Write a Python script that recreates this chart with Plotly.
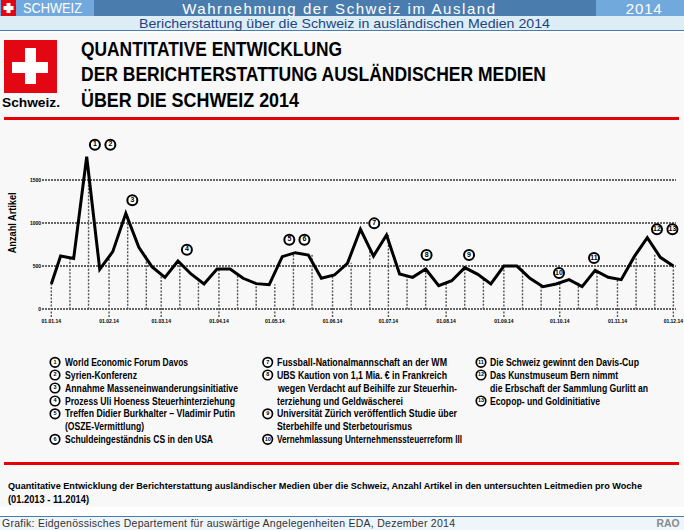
import json
import plotly.graph_objects as go
from datetime import datetime, timedelta

# ---- data ----
week_dates = ["2014-01-01","2014-01-06","2014-01-13","2014-01-20","2014-01-27","2014-02-03","2014-02-10","2014-02-17","2014-02-24",
 "2014-03-03","2014-03-10","2014-03-17","2014-03-24","2014-03-31","2014-04-07","2014-04-14","2014-04-21","2014-04-28",
 "2014-05-05","2014-05-12","2014-05-19","2014-05-26","2014-06-02","2014-06-09","2014-06-16","2014-06-23","2014-06-30",
 "2014-07-07","2014-07-14","2014-07-21","2014-07-28","2014-08-04","2014-08-11","2014-08-18","2014-08-25",
 "2014-09-01","2014-09-08","2014-09-15","2014-09-22","2014-09-29","2014-10-06","2014-10-13","2014-10-20","2014-10-27",
 "2014-11-03","2014-11-10","2014-11-17","2014-11-24","2014-12-01"]
articles = [294,618,590,1770,464,669,1113,719,495,371,560,410,294,468,468,360,298,286,611,657,630,360,398,533,928,618,862,
 410,371,468,274,332,483,406,294,502,502,360,263,294,344,263,452,371,344,611,831,603,502]

drop_dates = ["2014-01-01","2014-01-11","2014-01-21","2014-02-01","2014-02-11","2014-02-21","2014-03-01","2014-03-11","2014-03-21",
 "2014-04-01","2014-04-11","2014-04-21","2014-05-01","2014-05-11","2014-05-21","2014-06-01","2014-06-11","2014-06-21",
 "2014-07-01","2014-07-11","2014-07-21","2014-08-01","2014-08-11","2014-08-21","2014-09-01","2014-09-11","2014-09-21",
 "2014-10-01","2014-10-11","2014-10-21","2014-11-01","2014-11-11","2014-11-21","2014-12-01"]
drop_tops = [294,590,1650,620,1100,620,395,530,330,468,410,298,290,640,640,395,540,680,862,385,468,320,483,350,500,480,270,
 298,320,420,350,600,650,502]

month_ticks = ["2014-01-01","2014-02-01","2014-03-01","2014-04-01","2014-05-01","2014-06-01","2014-07-01","2014-08-01","2014-09-01",
 "2014-10-01","2014-11-01","2014-12-01"]
month_labels = ["01.01.14","01.02.14","01.03.14","01.04.14","01.05.14","01.06.14","01.07.14","01.08.14","01.09.14",
 "01.10.14","01.11.14","01.12.14"]
y_ticks = [0,500,1000,1500]

event_numbers = ["1","2","3","4","5","6","7","8","9","10","11","12","13"]
event_days = [23.4,31.7,43.5,72.8,127.8,135.9,173.4,201.5,224.3,272.6,291.4,325.2,333.5]
event_heights = [1910,1910,1264,692,808,808,997,630,630,421,595,928,928]

# (badge, text, rendered width in px)
legend_col1 = [("1","World Economic Forum Davos",123),("2","Syrien-Konferenz",72),("3","Annahme Masseneinwanderungsinitiative",173),
 ("4","Prozess Uli Hoeness Steuerhinterziehung",170),("5","Treffen Didier Burkhalter – Vladimir Putin",170),("","(OSZE-Vermittlung)",79),
 ("6","Schuldeingeständnis CS in den USA",148)]
legend_col2 = [("7","Fussball-Nationalmannschaft an der WM",170),("8","UBS Kaution von 1,1 Mia. € in Frankreich",170),
 ("","wegen Verdacht auf Beihilfe zur Steuerhin-",179),("","terziehung und Geldwäscherei",126),
 ("9","Universität Zürich veröffentlich Studie über",180),("","Sterbehilfe und Sterbetourismus",135),
 ("10","Vernehmlassung Unternehmenssteuerreform III",185)]
legend_col3 = [("11","Die Schweiz gewinnt den Davis-Cup",149),("12","Das Kunstmuseum Bern nimmt",128),
 ("","die Erbschaft der Sammlung Gurlitt an",158),("13","Ecopop- und Goldinitiative",110)]

W, H = 684, 530
SANS = "Liberation Sans"

def rect(x0, y0, x1, y1, color):
    return dict(type="rect", xref="paper", yref="paper", layer="below", line_width=0, fillcolor=color,
                x0=x0/W, x1=x1/W, y0=1-y0/H, y1=1-y1/H)

shapes = [
    rect(0,33,684,506.7,"#f8f8f8"),
    rect(0,0,684,16,"#4a7dae"), rect(0,0,94,16,"#72a9dd"), rect(596,0,684,16,"#72a9dd"),
    rect(0,16,684,30,"#dcedf5"), rect(0,30,684,31,"#4a7dae"),
    rect(1,0,16,16,"#e30613"), rect(6.5,3,10.5,13,"#ffffff"), rect(3.5,6,13.5,10,"#ffffff"),
    rect(4,40,57,93,"#e30613"), rect(25,48,36,84,"#ffffff"), rect(12,62,48,73,"#ffffff"),
    rect(4,117,679,120,"#e60000"), rect(4,462,679,465,"#e60000"),
    rect(0,516,684,517,"#4a7dae"), rect(0,517,684,530,"#eef6fc"),
]

targets = {}
spaced = []
def txt(x, y, s, size, width=None, color="#000", bold=True, anchor="left", angle=0, space=False):
    if width:
        targets[s] = width
    if space:
        spaced.append(s)
    return dict(xref="x2", yref="y2", x=x, y=y, text=s, showarrow=False,
                xanchor=anchor, yanchor="middle", textangle=angle,
                font=dict(family=SANS, size=size, color=color, weight="bold" if bold else "normal"))

annotations = [
    txt(23,8,"SCHWEIZ",14,59,"#fff",False),
    txt(338.5,8,"Wahrnehmung der Schweiz im Ausland",15,313,"#fff",False,"center",space=True),
    txt(643,8,"2014",15,36,"#fff",False,"center",space=True),
    txt(344.5,23,"Bericherstattung über die Schweiz in ausländischen Medien 2014",13.5,411,"#1f4480",False,"center"),
    txt(2,102.5,"Schweiz.",12,58),
    txt(81,48,"QUANTITATIVE ENTWICKLUNG",21,261),
    txt(81,73.5,"DER BERICHTERSTATTUNG AUSLÄNDISCHER MEDIEN",21,465),
    txt(81,99,"ÜBER DIE SCHWEIZ 2014",21,218),
    txt(12,223,"Anzahl Artikel",10,61,angle=-90,anchor="center"),
    txt(7.5,485.7,"Quantitative Entwicklung der Berichterstattung ausländischer Medien über die Schweiz, Anzahl Artikel in den untersuchten Leitmedien pro Woche",9.6,634),
    txt(7.5,499,"(01.2013 - 11.2014)",10,81),
    txt(2,523,"Grafik: Eidgenössisches Departement für auswärtige Angelegenheiten EDA, Dezember 2014",10.5,453,"#333",False,space=True),
    txt(680,523,"RAO",11,23,"#8a8a8a",True,"right"),
]

rows = [362.3,375,388,401,413.8,426.7,439.3]
badge_x, badge_y, badge_t = [], [], []
for col, bx, tx in ((legend_col1,55,65),(legend_col2,267.7,277),(legend_col3,481,490)):
    for r, (num, label, width) in zip(rows, col):
        annotations.append(txt(tx, r, label, 10, width))
        if num:
            badge_x.append(bx); badge_y.append(r); badge_t.append(num)

base = datetime(2014,1,1)
event_dates = [(base+timedelta(days=d)).isoformat() for d in event_days]

drop_x, drop_y = [], []
for d, v in zip(drop_dates, drop_tops):
    drop_x += [d, d, None]
    drop_y += [-89 if d in month_ticks else 0, v, None]

fig = go.Figure()
fig.add_trace(go.Scatter(x=drop_x, y=drop_y, mode="lines", hoverinfo="skip",
    line=dict(color="#555", width=1.4, dash="2px,1.5px"), connectgaps=False))
fig.add_trace(go.Scatter(x=week_dates, y=articles, mode="lines", line=dict(color="#000", width=3)))
fig.add_trace(go.Scatter(x=event_dates, y=event_heights, mode="markers+text", text=event_numbers, cliponaxis=False,
    textposition="middle center", textfont=dict(family=SANS, size=7, color="#000", weight="bold"),
    marker=dict(size=10, color="#fff", line=dict(color="#000", width=2))))
fig.add_trace(go.Scatter(x=badge_x, y=badge_y, xaxis="x2", yaxis="y2", mode="markers+text", text=badge_t,
    textposition="middle center", textfont=dict(family=SANS, size=5.5, color="#000", weight="bold"),
    marker=dict(size=9.5, color="#fff", line=dict(color="#000", width=1.7))))

fig.update_layout(
    width=W, height=H, margin=dict(l=0,r=0,t=0,b=0,autoexpand=False), autosize=False, showlegend=False,
    paper_bgcolor="#ffffff", plot_bgcolor="rgba(0,0,0,0)", shapes=shapes, annotations=annotations,
    xaxis=dict(domain=[42/W,676/W], type="date", range=["2013-12-27","2014-12-02 10:00"], showgrid=False, zeroline=False,
        automargin=False, showline=False, tickmode="array", tickvals=month_ticks, ticktext=month_labels, ticks="",
        tickfont=dict(family=SANS, size=5, color="#000", weight="bold")),
    yaxis=dict(domain=[1-317/H,1-130/H], range=[-89,2080], tickmode="array", tickvals=y_ticks, zeroline=False, showline=False,
        automargin=False, showgrid=True, gridcolor="#666", gridwidth=1.6, griddash="2px,1px", ticks="",
        tickfont=dict(family=SANS, size=5, color="#000", weight="bold")),
    xaxis2=dict(domain=[0,1], range=[0,W], visible=False, anchor="y2", automargin=False),
    yaxis2=dict(domain=[0,1], range=[H,0], visible=False, anchor="x2", automargin=False),
)

post = """
document.documentElement.style.overflow='hidden';
document.body.style.margin='0';
document.body.style.overflow='hidden';
var T = %s, S = %s;
document.querySelectorAll('.annotation-text').forEach(function(el){
  var s = el.getAttribute('data-unformatted');
  if(!(s in T)) return;
  var w0 = el.getComputedTextLength(), w = T[s], cx = parseFloat(el.getAttribute('x')) || 0;
  el.setAttribute('textLength', w);
  el.setAttribute('lengthAdjust', S.indexOf(s) >= 0 ? 'spacing' : 'spacingAndGlyphs');
  var a = el.closest('.annotation');
  var xa = a ? a.getAttribute('data-index') : null;
  var i = xa === null ? -1 : +xa;
  var an = i >= 0 ? gd.layout.annotations[i] : null;
  if(an && an.xanchor === 'left') el.setAttribute('x', cx - w0/2 + w/2 - 2);
  if(an && an.xanchor === 'right') el.setAttribute('x', cx + w0/2 - w/2 + 2);
});
document.querySelectorAll('.scatterlayer .js-line').forEach(function(p){
  p.style.strokeLinejoin='miter'; p.style.strokeMiterlimit='4';
});
""" % (json.dumps(targets, ensure_ascii=False), json.dumps(spaced, ensure_ascii=False))
post = "var gd = document.getElementById('{plot_id}');" + post

fig.write_html("out.html", post_script=post, default_width="684px", default_height="530px",
               config={"responsive": False, "displayModeBar": False})
